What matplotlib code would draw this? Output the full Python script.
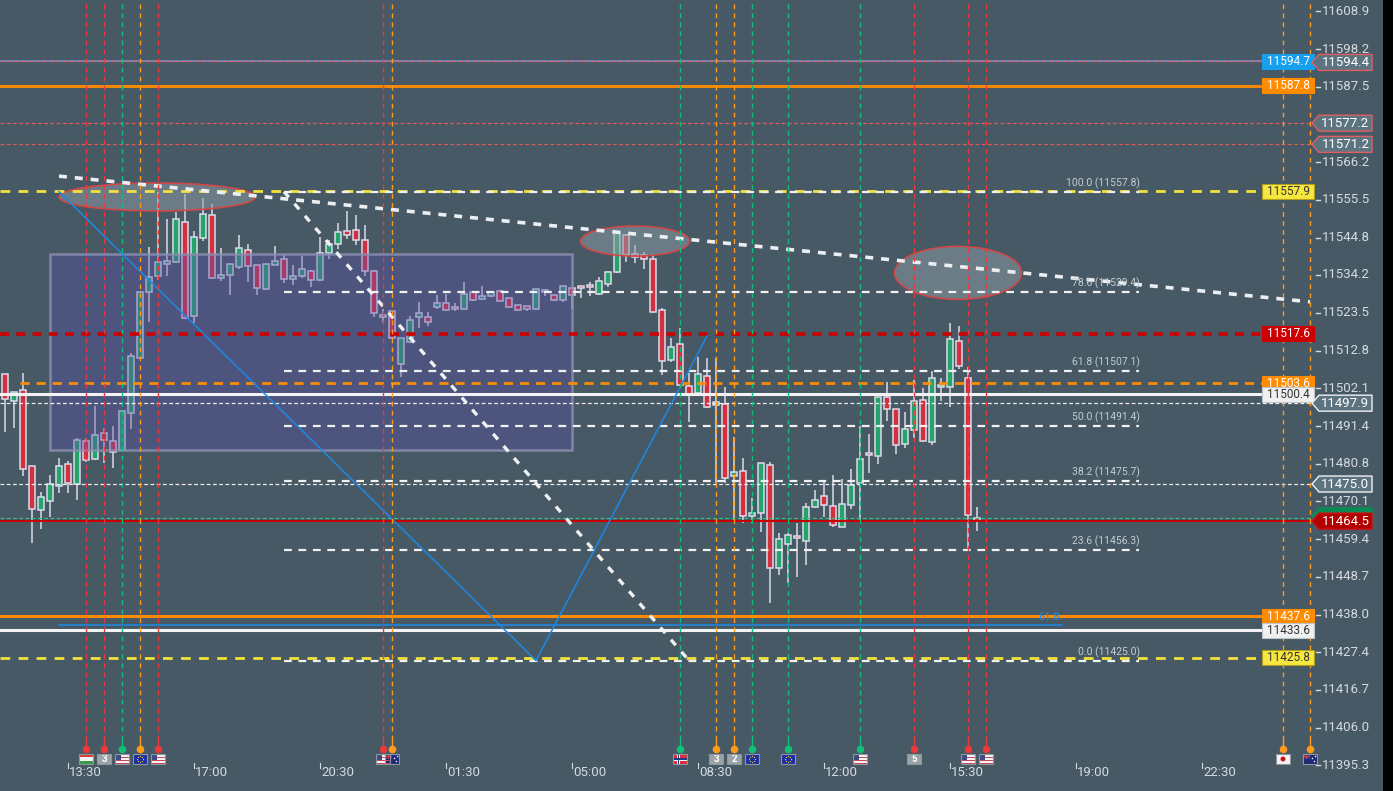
import matplotlib
matplotlib.use('Agg')
import matplotlib.pyplot as plt
from matplotlib.patches import Rectangle, Ellipse, Polygon
import numpy as np

# ---------------- data ----------------
opens = [11506.1, 11498.4, 11501.6, 11480.0, 11467.6, 11470.1, 11474.4, 11480.6, 11475.0, 11487.1,
         11482.0, 11489.4, 11487.1, 11484.5, 11495.0, 11510.8, 11529.3, 11533.8, 11537.2, 11537.8,
         11549.1, 11522.5, 11544.6, 11551.1, 11533.3, 11534.1, 11536.4, 11541.2, 11536.9, 11530.2,
         11537.0, 11538.7, 11533.0, 11533.8, 11535.2, 11532.7, 11540.4, 11542.9, 11546.6, 11546.9,
         11544.1, 11535.2, 11522.8, 11523.9, 11508.9, 11515.1, 11522.2, 11522.2, 11525.0, 11526.2,
         11525.1, 11524.5, 11529.3, 11527.3, 11528.2, 11529.6, 11527.6, 11525.6, 11525.3, 11524.5,
         11529.3, 11528.5, 11527.0, 11530.4, 11531.0, 11531.3, 11528.7, 11531.6, 11535.0, 11545.4,
         11540.1, 11539.8, 11538.7, 11524.2, 11510.0, 11514.6, 11502.7, 11500.7, 11505.5, 11497.3,
         11497.6, 11477.2, 11478.6, 11465.9, 11466.7, 11480.3, 11451.1, 11457.9, 11460.2, 11458.8,
         11468.4, 11471.5, 11468.7, 11462.8, 11469.0, 11475.2, 11483.7, 11482.9, 11499.6, 11496.2,
         11486.3, 11490.2, 11498.7, 11486.8, 11502.4, 11502.4, 11515.4, 11505.0, 11465.3]
highs = [11506.3, 11501.2, 11506.5, 11480.2, 11472.7, 11477.6, 11482.4, 11481.5, 11488.1, 11488.0,
         11497.1, 11490.8, 11491.4, 11496.0, 11512.1, 11529.8, 11542.0, 11557.8, 11550.0, 11552.1,
         11557.1, 11546.6, 11555.9, 11554.3, 11541.8, 11537.4, 11545.4, 11542.9, 11537.0, 11537.3,
         11542.3, 11540.1, 11537.0, 11539.6, 11535.6, 11545.0, 11544.1, 11548.9, 11552.3, 11551.2,
         11548.4, 11535.5, 11524.5, 11524.0, 11516.4, 11522.5, 11526.5, 11523.6, 11528.5, 11528.7,
         11526.2, 11532.1, 11529.6, 11531.0, 11529.4, 11529.9, 11527.7, 11525.7, 11525.4, 11530.3,
         11530.0, 11528.6, 11531.3, 11530.5, 11531.1, 11532.1, 11533.5, 11535.3, 11546.4, 11545.7,
         11542.6, 11540.6, 11540.1, 11524.8, 11516.3, 11519.1, 11506.4, 11510.9, 11510.6, 11510.6,
         11502.4, 11488.4, 11482.3, 11471.0, 11481.0, 11481.2, 11461.0, 11461.0, 11463.9, 11469.5,
         11473.2, 11475.5, 11477.5, 11476.3, 11479.2, 11491.3, 11489.1, 11499.7, 11503.8, 11496.3,
         11495.3, 11504.5, 11502.1, 11506.9, 11505.0, 11520.5, 11519.7, 11508.2, 11468.4]
lows = [11489.8, 11490.9, 11477.3, 11458.2, 11462.2, 11465.8, 11472.5, 11472.4, 11470.5, 11481.2,
        11481.8, 11481.0, 11479.6, 11484.3, 11490.7, 11510.6, 11521.0, 11532.8, 11533.9, 11537.5,
        11521.8, 11520.5, 11543.9, 11533.2, 11532.5, 11528.6, 11536.0, 11532.1, 11528.6, 11530.0,
        11536.9, 11532.0, 11531.3, 11533.3, 11530.7, 11532.6, 11538.8, 11541.6, 11544.3, 11542.6,
        11533.8, 11522.4, 11520.5, 11516.2, 11505.2, 11515.0, 11519.1, 11519.7, 11524.5, 11524.1,
        11523.9, 11524.4, 11526.9, 11527.2, 11528.1, 11526.7, 11525.0, 11524.1, 11523.9, 11524.4,
        11528.2, 11526.9, 11526.5, 11524.5, 11527.6, 11528.2, 11528.6, 11530.7, 11534.7, 11537.8,
        11537.5, 11535.8, 11523.4, 11505.8, 11509.5, 11502.9, 11492.7, 11500.6, 11496.6, 11475.2,
        11475.2, 11464.3, 11463.9, 11463.9, 11461.3, 11441.2, 11449.3, 11447.0, 11448.8, 11452.1,
        11468.3, 11465.8, 11462.8, 11462.7, 11467.9, 11464.8, 11478.0, 11480.6, 11492.8, 11483.4,
        11485.1, 11488.0, 11486.8, 11486.0, 11498.4, 11496.7, 11507.5, 11456.8, 11461.6]
closes = [11499.0, 11501.0, 11479.2, 11467.9, 11471.2, 11474.9, 11480.0, 11475.4, 11487.4, 11481.7,
          11488.8, 11487.4, 11484.0, 11495.6, 11511.2, 11529.3, 11533.6, 11537.8, 11538.1, 11550.0,
          11521.9, 11544.9, 11551.5, 11533.3, 11534.1, 11537.2, 11541.8, 11536.7, 11530.4, 11537.2,
          11538.1, 11533.0, 11533.8, 11535.8, 11532.7, 11540.4, 11542.9, 11546.3, 11545.4, 11544.1,
          11535.2, 11523.4, 11522.2, 11516.3, 11516.3, 11521.4, 11523.4, 11520.8, 11526.2, 11524.2,
          11524.5, 11528.7, 11527.0, 11528.2, 11529.3, 11526.8, 11525.1, 11524.2, 11524.5, 11530.2,
          11529.9, 11527.0, 11531.0, 11528.5, 11530.4, 11530.7, 11532.4, 11535.0, 11546.3, 11539.8,
          11539.2, 11538.7, 11523.6, 11509.8, 11513.7, 11503.0, 11500.1, 11506.1, 11496.7, 11498.2,
          11476.6, 11478.3, 11465.9, 11466.7, 11480.9, 11451.1, 11459.4, 11460.7, 11459.6, 11468.4,
          11470.4, 11469.0, 11463.3, 11469.3, 11474.7, 11482.0, 11483.2, 11499.6, 11496.2, 11486.0,
          11490.5, 11498.4, 11487.1, 11504.9, 11503.0, 11516.0, 11508.3, 11466.2, 11464.5]

time_tick_bars = [7, 21, 35, 49, 63, 77, 91, 105, 119, 133]
time_tick_labels = ['13:30', '17:00', '20:30', '01:30', '05:00', '08:30', '12:00', '15:30', '19:00', '22:30']
price_ticks = [11608.9, 11598.2, 11587.5, 11566.2, 11555.5, 11544.8, 11534.2, 11523.5, 11512.8,
               11502.1, 11491.4, 11480.8, 11470.1, 11459.4, 11448.7, 11438.0, 11427.4, 11416.7,
               11406.0, 11395.3]

event_bars = [9, 11, 13, 15, 17, 42, 43, 75, 79, 81, 83, 87, 95, 101, 107, 109, 142, 145]
event_colors = ['red', 'red', 'green', 'orange', 'red', 'red', 'orange', 'green', 'orange', 'orange',
                'green', 'green', 'green', 'red', 'red', 'red', 'orange', 'orange']
event_flags = ['HU', '3', 'US', 'EU', 'US', 'US', 'AU', 'NO', '3', '2', 'EU', 'EU', 'US', '5', 'US', 'US', 'JP', 'AU']

fib_low, fib_high = 11425.0, 11557.8
fib_levels = [0.0, 23.6, 38.2, 50.0, 61.8, 78.6, 100.0]
fib_start_bar, fib_end_bar = 31, 126
fib_diag_bars = [31, 76]

trend_bars = [6, 145]
trend_prices = [11562.2, 11526.6]
zigzag_bars = [6, 59, 78]
zigzag_prices = [11557.8, 11425.0, 11516.9]
blue_level = 11435.1
blue_level_bars = [6, 117.4]

box_bars = [5, 63]
box_prices = [11484.6, 11540.2]

ellipse_centers_bar = [16.9, 70.0, 105.9]
ellipse_centers_price = [11556.3, 11543.8, 11534.8]
ellipse_widths_bar = [21.8, 12.1, 14.1]
ellipse_heights_price = [7.9, 8.5, 15.0]

last_price = 11464.5

# ---------------- layout helpers ----------------
W, H = 1393, 791
BG = '#465965'
PX_BAR = 9.0
X0_PX = 5.0
PX_PT = 3.531
TOP_PRICE = 11612.08

plt.rcParams['font.family'] = ['Roboto', 'DejaVu Sans']

fig = plt.figure(figsize=(W / 100, H / 100), dpi=100)
fig.patch.set_facecolor(BG)
ax = fig.add_axes([0, 0, 1, 1])
ax.set_facecolor(BG)
ax.set_xlim(-X0_PX / PX_BAR, (W - X0_PX) / PX_BAR)
ax.set_ylim(TOP_PRICE - H / PX_PT, TOP_PRICE)
ax.axis('off')


def bx(px):
    return (px - X0_PX) / PX_BAR


def py(pix):
    return TOP_PRICE - pix / PX_PT


def dpx(n):
    return n / PX_BAR


def dpp(n):
    return n / PX_PT


XMIN = bx(0)
XBOX = bx(1262)
XEDGE = bx(1312)

# ---------------- candles ----------------
o = np.array(opens); c = np.array(closes); h = np.array(highs); l = np.array(lows)
idx = np.arange(len(o))
up = c >= o
GREEN, RED, EDGE = '#22a46a', '#d3303f', '#dcdbe9'
ax.vlines(idx, l, h, color=EDGE, lw=1.1, zorder=2)
bottoms = np.minimum(o, c)
heights = np.maximum(np.abs(c - o), 0.45)
ax.bar(idx, heights, bottom=bottoms, width=0.72, color=np.where(up, GREEN, RED),
       edgecolor=EDGE, linewidth=1.1, zorder=3)

# ---------------- box & ellipses ----------------
ax.add_patch(Rectangle((box_bars[0], box_prices[0]), box_bars[1] - box_bars[0], box_prices[1] - box_prices[0],
                       facecolor='#5a4fa8', alpha=0.38, edgecolor='none', zorder=4))
ax.add_patch(Rectangle((box_bars[0], box_prices[0]), box_bars[1] - box_bars[0], box_prices[1] - box_prices[0],
                       fill=False, edgecolor='#8a8fb0', lw=1.8, alpha=0.85, zorder=4))
for cx, cy, ew, eh in zip(ellipse_centers_bar, ellipse_centers_price, ellipse_widths_bar, ellipse_heights_price):
    ax.add_patch(Ellipse((cx, cy), ew, eh, facecolor='#8a9aa3', alpha=0.55, edgecolor='none', zorder=4))
    ax.add_patch(Ellipse((cx, cy), ew, eh, fill=False, edgecolor='#d04848', lw=1.2, zorder=4))

# ---------------- horizontal levels ----------------
YEL = '#f4e23a'
ORG = '#ff8c00'
ax.plot([XMIN, XBOX], [11594.7, 11594.7], color='#6c8fd0', lw=1.2, zorder=5)
ax.plot([XMIN, XBOX], [11594.7, 11594.7], color='#e06060', lw=1.0, ls=(0, (3, 2)), zorder=5)
ax.plot([XMIN, XBOX], [11587.8, 11587.8], color=ORG, lw=2, zorder=5)
for lv in (11577.2, 11571.2):
    ax.plot([XMIN, XEDGE], [lv, lv], color='#e05a5a', lw=0.9, ls=(0, (3, 2)), zorder=5)
ax.plot([XMIN, XBOX], [11557.9, 11557.9], color=YEL, lw=2.0, ls=(0, (3.5, 3)), zorder=5)
ax.plot([XMIN, XBOX], [11517.6, 11517.6], color='#cc0000', lw=2.6, ls=(0, (2.5, 2)), zorder=5)
ax.plot([bx(20), XBOX], [11503.6, 11503.6], color=ORG, lw=2.0, ls=(0, (3.3, 2.5)), zorder=5)
ax.plot([XMIN, XBOX], [11500.4, 11500.4], color='#f2f2f4', lw=2.2, zorder=5)
for lv in (11497.9, 11475.0):
    ax.plot([XMIN, XEDGE], [lv, lv], color='#f0f0f0', lw=0.9, ls=(0, (3, 2)), zorder=5)
ax.plot([XMIN, XEDGE], [11465.4, 11465.4], color='#35c282', lw=0.9, ls=(0, (3, 2)), zorder=5)
ax.plot([XMIN, XEDGE], [last_price, last_price], color='#c40000', lw=1.5, zorder=5)
ax.plot([XMIN, XBOX], [11437.6, 11437.6], color=ORG, lw=2.2, zorder=5)
ax.plot([XMIN, XBOX], [11433.6, 11433.6], color='#f2f2f4', lw=2.2, zorder=5)
ax.plot([XMIN, XBOX], [11425.8, 11425.8], color=YEL, lw=2.0, ls=(0, (3.5, 3)), zorder=5)

# ---------------- fibonacci ----------------
for lvl in fib_levels:
    val = fib_low + (fib_high - fib_low) * lvl / 100.0
    ax.plot([fib_start_bar, fib_end_bar], [val, val], color='#f0f0f0', lw=1.6, ls=(0, (3.5, 3)), zorder=6)
    ax.text(fib_end_bar + dpx(1), val + dpp(3), f'{lvl:.1f} ({val:.1f})', ha='right', va='bottom',
            fontsize=7.5, color='#c5cdd2', zorder=7)
ax.plot(fib_diag_bars, [fib_high, fib_low], color='#eef0f2', lw=2.4, ls=(0, (2.2, 2.6)), zorder=6)

# trend line
ax.plot(trend_bars, trend_prices, color='#eceff1', lw=2.6, ls=(0, (2.2, 2.2)), zorder=6)

# blue pattern
ax.plot(zigzag_bars, zigzag_prices, color='#1e88e5', lw=1.1, zorder=6)
ax.plot(blue_level_bars, [blue_level, blue_level], color='#1e88e5', lw=1.1, zorder=6)
ax.text(blue_level_bars[1] - dpx(2), blue_level + dpp(3), '61.8', ha='right', va='bottom',
        fontsize=8, color='#2a8ae0', zorder=7)

# ---------------- events ----------------
ECOL = {'red': '#e83a3a', 'green': '#10c07a', 'orange': '#ff9a1a'}
y_line_end = py(740)
y_dot = py(749)
for b, col in zip(event_bars, event_colors):
    cc = ECOL[col]
    ax.plot([b, b], [y_line_end, TOP_PRICE], color=cc, lw=1.0, ls=(0, (3.5, 3)), zorder=7)
    ax.plot([b, b], [y_dot, y_line_end], color=cc, lw=1.0, zorder=7)
    ax.scatter([b], [y_dot], s=30, color=cc, zorder=8, linewidths=0)


def rect(x0, y0, w, hgt, fc, z=9, **kw):
    ax.add_patch(Rectangle((x0, y0), w, hgt, facecolor=fc, edgecolor='none', zorder=z, **kw))


def draw_flag(kind, b):
    x0 = b - dpx(7); w = dpx(14)
    y0 = py(764); hh = dpp(10)
    if kind == 'US':
        rect(x0, y0, w, hh, '#f4f4f4')
        for k in range(4):
            rect(x0, y0 + hh * (2 * k) / 7, w, hh / 7, '#c8475a', z=9.1)
        rect(x0, y0 + hh * 0.45, w * 0.45, hh * 0.55, '#3f4a82', z=9.2)
    elif kind == 'EU':
        rect(x0, y0, w, hh, '#1c2fa8')
        cxx, cyy = b, y0 + hh / 2
        for a in np.linspace(0, 2 * np.pi, 8, endpoint=False):
            ax.scatter([cxx + dpx(3.2) * np.cos(a)], [cyy + dpp(3.2) * np.sin(a)], s=0.8,
                       color='#f0d030', zorder=9.3, linewidths=0)
    elif kind == 'HU':
        rect(x0, y0 + hh * 2 / 3, w, hh / 3, '#d83a3a')
        rect(x0, y0 + hh / 3, w, hh / 3, '#f4f4f4')
        rect(x0, y0, w, hh / 3, '#3a9a4a')
    elif kind == 'NO':
        rect(x0, y0, w, hh, '#d8303a')
        rect(x0 + dpx(4), y0, dpx(3), hh, '#f4f4f4', z=9.1)
        rect(x0, y0 + dpp(3.5), w, dpp(3), '#f4f4f4', z=9.1)
        rect(x0 + dpx(4.8), y0, dpx(1.4), hh, '#1d3a8a', z=9.2)
        rect(x0, y0 + dpp(4.3), w, dpp(1.4), '#1d3a8a', z=9.2)
    elif kind == 'JP':
        rect(x0, y0, w, hh, '#f6f6f6')
        ax.add_patch(Ellipse((b, y0 + hh / 2), dpx(5), dpp(5), facecolor='#d01010', edgecolor='none', zorder=9.2))
    elif kind == 'AU':
        rect(x0, y0, w, hh, '#1f2a78')
        rect(x0, y0 + hh / 2, w / 2, hh / 2, '#34407e', z=9.1)
        rect(x0 + w / 4 - dpx(0.6), y0 + hh / 2, dpx(1.2), hh / 2, '#d83a4a', z=9.2)
        rect(x0, y0 + hh * 0.75 - dpp(0.6), w / 2, dpp(1.2), '#d83a4a', z=9.2)
        ax.scatter([b + dpx(3.5), b + dpx(2), b + dpx(4.5)], [y0 + hh * 0.3, y0 + hh * 0.65, y0 + hh * 0.8],
                   s=1.2, color='white', zorder=9.3, linewidths=0)
    else:
        rect(x0, y0, w, hh, '#9aa3a8')
        ax.text(b, y0 + hh / 2, kind, ha='center', va='center', fontsize=7, color='white',
                fontweight='bold', zorder=9.5)
    ax.add_patch(Rectangle((x0, y0), w, hh, fill=False, edgecolor='#8e979c', lw=0.8, zorder=9.6))


for b, fl in zip(event_bars, event_flags):
    draw_flag(fl, b)

# ---------------- time axis ----------------
TXT = '#d5dbe0'
for b, lab in zip(time_tick_bars, time_tick_labels):
    ax.plot([b, b], [py(768), py(763)], color=TXT, lw=0.8, zorder=8)
    ax.text(b + dpx(1), py(773), lab, ha='left', va='center', fontsize=9.5, color=TXT, zorder=8)

# ---------------- price axis ----------------
for t in price_ticks:
    ax.plot([bx(1316), bx(1320)], [t, t], color=TXT, lw=1.0, zorder=8)
    ax.text(bx(1322), t, f'{t:.1f}', ha='left', va='center', fontsize=9.5, color=TXT, zorder=8)


def box_label(price, text, fc, tc, ec=None):
    ax.add_patch(Rectangle((XBOX, price - dpp(7.5)), dpx(52), dpp(15), facecolor=fc,
                           edgecolor=ec if ec else fc, lw=0.8, zorder=10))
    ax.text(XBOX + dpx(26), price, text, ha='center', va='center', fontsize=8.5, color=tc, zorder=11)


def arrow_label(price, text, fc, ec, tc='white'):
    pts = [(bx(1312), price), (bx(1319), price + dpp(8)), (bx(1372), price + dpp(8)),
           (bx(1372), price - dpp(8)), (bx(1319), price - dpp(8))]
    ax.add_patch(Polygon(pts, closed=True, facecolor=fc, edgecolor=ec, lw=1.0, zorder=10))
    if text:
        ax.text(bx(1345.5), price, text, ha='center', va='center', fontsize=9.5, color=tc, zorder=11)


box_label(11594.7, '11594.7', '#18a0f0', 'white')
arrow_label(11594.4, '11594.4', '#5c7380', '#e06060')
box_label(11587.8, '11587.8', '#ff8c00', 'white')
arrow_label(11577.2, '11577.2', '#5c7380', '#e06060')
arrow_label(11571.2, '11571.2', '#5c7380', '#e06060')
box_label(11557.9, '11557.9', '#f6e640', '#333333', '#b0a020')
box_label(11517.6, '11517.6', '#cc0000', 'white')
box_label(11503.6, '11503.6', '#ff8c00', 'white')
box_label(11500.4, '11500.4', '#eef0f2', '#333333', '#c0c4c8')
arrow_label(11497.9, '11497.9', '#5c7380', '#f0f0f0')
arrow_label(11475.0, '11475.0', '#5c7380', '#f0f0f0')
arrow_label(11466.0, '', '#0a8a55', '#0a8a55')   # mostly hidden green marker behind the last price
arrow_label(last_price, f'{last_price:.1f}', '#b00000', '#d01010')
box_label(11437.6, '11437.6', '#ff8c00', 'white')
box_label(11433.6, '11433.6', '#eef0f2', '#333333', '#c0c4c8')
box_label(11425.8, '11425.8', '#f6e640', '#333333', '#b0a020')

# right black strip
ax.add_patch(Rectangle((1383 / W, 0), 10 / W, 1, transform=ax.transAxes, facecolor='black',
                       edgecolor='none', zorder=20))

fig.savefig('out.png', dpi=100, facecolor=BG)
